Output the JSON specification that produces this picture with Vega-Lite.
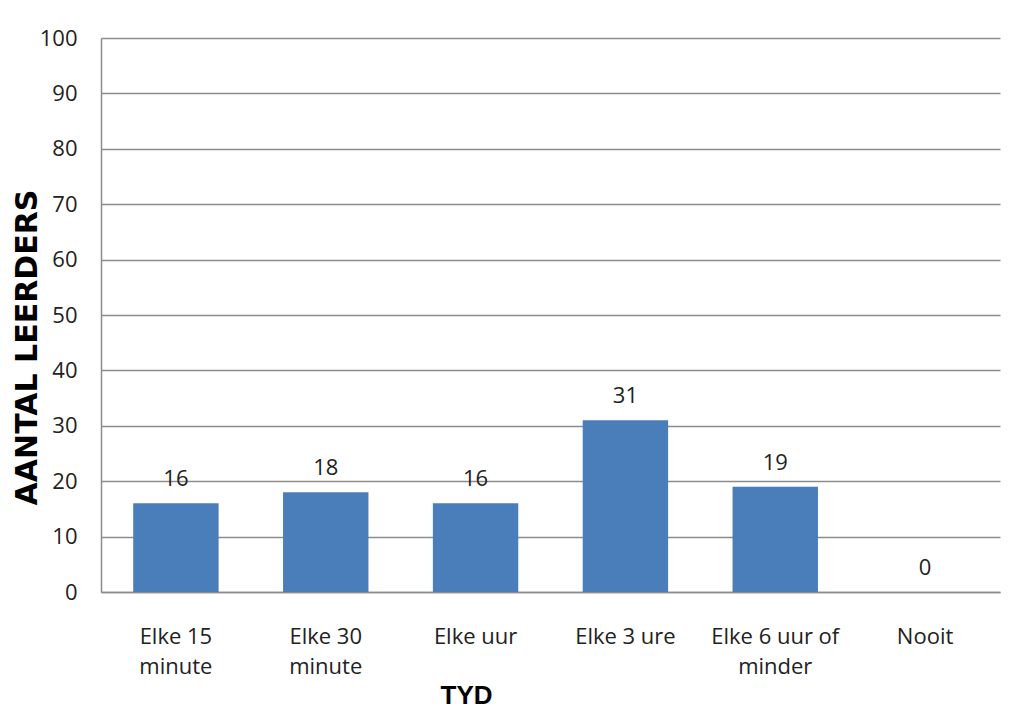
{
  "$schema": "https://vega.github.io/schema/vega-lite/v6.json",
  "autosize": {"type": "none"},
  "width": 899,
  "height": 554,
  "padding": {"left": 101, "top": 38, "right": 15, "bottom": 119},
  "background": "white",
  "config": {"view": {"stroke": null}},
  "data": {
    "values": [
      {"tyd": "Elke 15 minute", "aantal": 16},
      {"tyd": "Elke 30 minute", "aantal": 18},
      {"tyd": "Elke uur", "aantal": 16},
      {"tyd": "Elke 3 ure", "aantal": 31},
      {"tyd": "Elke 6 uur of minder", "aantal": 19},
      {"tyd": "Nooit", "aantal": 0}
    ]
  },
  "encoding": {
    "x": {
      "field": "tyd",
      "type": "nominal",
      "sort": null,
      "scale": {"paddingInner": 0.43, "paddingOuter": 0.215},
      "axis": {
        "title": "TYD",
        "titleFont": "Liberation Sans",
        "titleFontWeight": "bold",
        "titleFontSize": 26,
        "titleColor": "#000000",
        "titleX": 365,
        "titleY": 111,
        "titleBaseline": "alphabetic",
        "titleAlign": "center",
        "labelAngle": 0,
        "labelFont": "Open Sans",
        "labelFontSize": 22,
        "labelColor": "#222222",
        "labelPadding": 34,
        "labelLineHeight": 30,
        "labelExpr": "datum.label == 'Elke 15 minute' ? ['Elke 15', 'minute'] : datum.label == 'Elke 30 minute' ? ['Elke 30', 'minute'] : datum.label == 'Elke 6 uur of minder' ? ['Elke 6 uur of', 'minder'] : datum.label",
        "ticks": false,
        "domainColor": "#8c8c8c",
        "domainWidth": 1.5
      }
    },
    "y": {
      "field": "aantal",
      "type": "quantitative",
      "scale": {"domain": [0, 100]},
      "axis": {
        "title": "AANTAL LEERDERS",
        "titleFont": "DejaVu Sans",
        "titleFontWeight": "bold",
        "titleFontSize": 30,
        "titleColor": "#000000",
        "titleAngle": -90,
        "titleX": -74,
        "titleY": 309,
        "titleAlign": "center",
        "titleBaseline": "middle",
        "values": [0, 10, 20, 30, 40, 50, 60, 70, 80, 90, 100],
        "labelFont": "Open Sans",
        "labelFontSize": 22,
        "labelColor": "#222222",
        "labelPadding": 24,
        "ticks": false,
        "grid": true,
        "gridColor": "#8c8c8c",
        "gridWidth": 1.5,
        "domainColor": "#8c8c8c",
        "domainWidth": 1.5
      }
    }
  },
  "layer": [
    {"mark": {"type": "bar", "color": "#4a7ebb"}},
    {
      "mark": {"type": "text", "font": "Open Sans", "fontSize": 22, "color": "#222222", "baseline": "alphabetic", "dy": -17},
      "encoding": {"text": {"field": "aantal", "type": "quantitative"}}
    }
  ]
}
